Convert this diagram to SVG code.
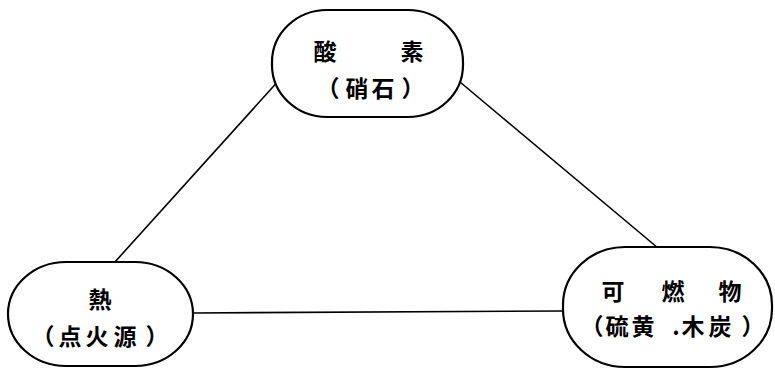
<svg xmlns="http://www.w3.org/2000/svg" width="775" height="369" viewBox="0 0 775 369">
<style>
.node{fill:#fff;stroke:#000;stroke-width:2.2}
.t{font-family:"Noto Sans CJK JP","Noto Sans CJK SC",sans-serif;font-size:23px;font-weight:bold;fill:#000;text-anchor:middle;dominant-baseline:central}
.edge{stroke:#000;stroke-width:1.6;fill:none}
</style>
<rect width="775" height="369" fill="#fff"/>
<g id="connectors">
<line class="edge" x1="281" y1="78" x2="114" y2="263"/>
<line class="edge" x1="460" y1="82" x2="658" y2="248"/>
<line class="edge" x1="193" y1="313" x2="564" y2="311"/>
</g>
<g id="oxygen">
<rect class="node" x="272" y="10" width="191" height="107" rx="55" ry="52"/>
<text class="t" x="325" y="50">酸</text>
<text class="t" x="412" y="50">素</text>
<text class="t" x="328" y="87">（</text>
<text class="t" x="357" y="87">硝</text>
<text class="t" x="383" y="87">石</text>
<text class="t" x="413" y="87">）</text>
</g>
<g id="heat">
<rect class="node" x="8" y="262" width="185" height="104" rx="58" ry="52"/>
<text class="t" x="100" y="298">熱</text>
<text class="t" x="43" y="335">（</text>
<text class="t" x="70" y="335">点</text>
<text class="t" x="97" y="335">火</text>
<text class="t" x="125" y="335">源</text>
<text class="t" x="157" y="335">）</text>
</g>
<g id="fuel">
<rect class="node" x="563" y="247" width="209" height="120" rx="62" ry="58"/>
<text class="t" x="613" y="290">可</text>
<text class="t" x="673" y="290">燃</text>
<text class="t" x="730" y="290">物</text>
<text class="t" x="592" y="325">（</text>
<text class="t" x="617" y="325">硫</text>
<text class="t" x="643" y="325">黄</text>
<text class="t" x="676" y="325">.</text>
<text class="t" x="693" y="325">木</text>
<text class="t" x="720" y="325">炭</text>
<text class="t" x="753" y="325">）</text>
</g>
</svg>
